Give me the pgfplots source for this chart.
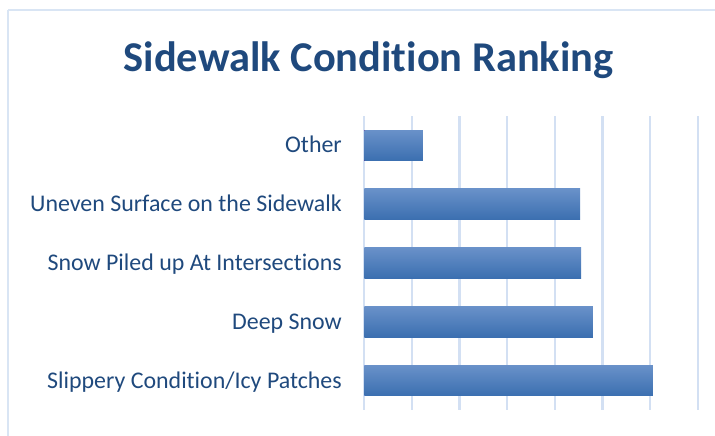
\documentclass[border=0pt]{standalone}
\usepackage{fontspec}
\setmainfont{Carlito}[Ligatures=NoCommon]
\usepackage{pgfplots}
\pgfplotsset{compat=1.18}
\definecolor{txtblue}{HTML}{1F497D}
\definecolor{gridblue}{HTML}{D3E0F3}
\definecolor{framblue}{HTML}{D9E5F4}
\definecolor{bartop}{HTML}{6991C9}
\definecolor{barmid}{HTML}{4A82C4}
\definecolor{barbot}{HTML}{3B6FB0}

\begin{document}
\begin{tikzpicture}[x=1bp,y=1bp]
% chart frame (right and bottom sides fall outside the page)
\draw[framblue,line width=1.5bp] (8,426) -- (730,426);
\draw[framblue,line width=1.5bp] (8,426) -- (8,-10);
\node[font=\fontsize{42.6}{46}\selectfont\bfseries,text=txtblue,anchor=base,inner sep=0pt]
  at (368.5,364.3) {Sidewalk Condition Ranking};
\begin{axis}[
  at={(364.3bp,26bp)}, anchor=south west,
  scale only axis,
  width=333.4bp, height=294bp,
  xmin=0, xmax=7,
  ymin=-0.5, ymax=4.5,
  xtick={0,1,...,7},
  xticklabels={},
  ytick={0,1,2,3,4},
  yticklabels={Slippery Condition/Icy Patches,Deep Snow,Snow Piled up At Intersections,Uneven Surface on the Sidewalk,Other},
  y tick label style={font=\fontsize{24}{26}\selectfont,text=txtblue,anchor=base east,inner sep=0pt,xshift=-22.3bp,yshift=-7.6bp},
  major tick length=0pt,
  axis line style={draw=none},
  xmajorgrids,
  grid style={draw=gridblue,line width=2.2bp},
  clip=false,
  xbar, bar shift=0pt, bar width=30.5bp,
  every axis plot/.append style={draw=none,top color=bartop,middle color=barmid,bottom color=barbot},
]
\addplot coordinates {(6.06,0)};
\addplot coordinates {(4.80,1)};
\addplot coordinates {(4.55,2)};
\addplot coordinates {(4.53,3)};
\addplot coordinates {(1.23,4)};
\end{axis}
\pgfresetboundingbox
\useasboundingbox (0,0) rectangle (715,436);
\end{tikzpicture}
\end{document}
